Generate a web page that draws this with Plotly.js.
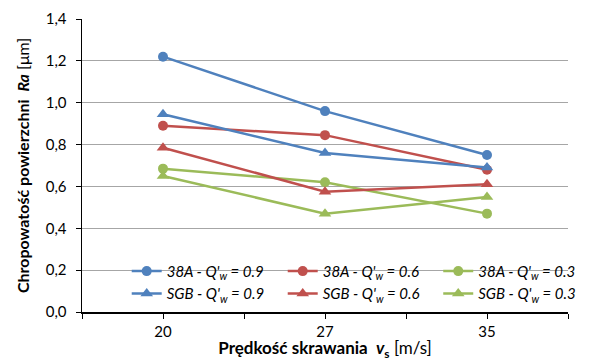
<!DOCTYPE html>
<html><head><meta charset="utf-8">
<script src="https://cdn.plot.ly/plotly-3.0.1.min.js"></script>
<style>html,body{margin:0;padding:0;background:#fff}#c{width:590px;height:361px}</style>
</head><body><div id="c"></div>
<script>
const categories = ['20', '27', '35'];
const seriesNames = ["38A - Q'<sub>w</sub> = 0.9", "38A - Q'<sub>w</sub> = 0.6", "38A - Q'<sub>w</sub> = 0.3",
                     "SGB - Q'<sub>w</sub> = 0.9", "SGB - Q'<sub>w</sub> = 0.6", "SGB - Q'<sub>w</sub> = 0.3"];
const a38_09 = [1.22, 0.96, 0.75];
const a38_06 = [0.89, 0.845, 0.68];
const a38_03 = [0.685, 0.62, 0.47];
const sgb_09 = [0.945, 0.76, 0.69];
const sgb_06 = [0.785, 0.575, 0.61];
const sgb_03 = [0.65, 0.47, 0.55];
const yTicks = [0, 0.2, 0.4, 0.6, 0.8, 1.0, 1.2, 1.4];

const colors = ['#4F81BD', '#C0504D', '#9BBB59'];
const values = [a38_09, a38_06, a38_03, sgb_09, sgb_06, sgb_03];
const legendIds = ['legend', 'legend2', 'legend3'];
const idx = categories.map((c, i) => i);
const traces = values.map((v, i) => ({
  x: idx, y: v, name: seriesNames[i], type: 'scatter', mode: 'lines+markers',
  legend: legendIds[i % 3],
  line: {color: colors[i % 3], width: 2.5},
  marker: {color: colors[i % 3], size: i < 3 ? 10 : 11, symbol: i < 3 ? 'circle' : 'triangle-up'}
}));
const font = 'Lato, "Open Sans", sans-serif';
const legFont = {family: font, size: 15, style: 'italic', color: '#000'};
const legBase = {orientation: 'v', xanchor: 'left', y: 0.195, yanchor: 'top',
                 bgcolor: 'rgba(0,0,0,0)', font: legFont, tracegroupgap: 0};
const layout = {
  width: 590, height: 361,
  margin: {l: 82, r: 9, t: 19, b: 49},
  paper_bgcolor: '#fff', plot_bgcolor: '#fff',
  separators: ',.',
  font: {family: font, size: 15, color: '#000'},
  showlegend: true,
  shapes: [{type: 'rect', xref: 'paper', yref: 'paper', x0: 0.046, x1: 1, y0: 0.12, y1: 0.24,
            fillcolor: '#fff', line: {width: 0}, layer: 'between'}],
  legend: Object.assign({}, legBase, {x: 0.092}),
  legend2: Object.assign({}, legBase, {x: 0.413}),
  legend3: Object.assign({}, legBase, {x: 0.733}),
  xaxis: {type: 'linear', range: [-0.5, 2.5], tickvals: idx, ticktext: categories,
          showgrid: false, zeroline: false, showline: true, linecolor: '#000', linewidth: 1.5,
          ticks: 'outside', ticklen: 5, tickcolor: '#000',
          minor: {dtick: 0.5, tick0: 0.5, ticks: 'outside', ticklen: 5, tickcolor: '#000', showgrid: false},
          tickfont: {size: 15},
          title: {text: "<b>Prędkość skrawania  <i>v</i><sub>s</sub></b> [m/s]", standoff: 4, font: {size: 17}}},
  yaxis: {range: [0, 1.4], tickvals: yTicks, tickformat: '.1f',
          showgrid: true, gridcolor: '#A6A6A6', gridwidth: 1, zeroline: false,
          showline: true, linecolor: '#000', linewidth: 1.5,
          ticks: 'outside', ticklen: 5, tickcolor: '#000', tickfont: {size: 15}, ticklabelstandoff: 6,
          title: {text: "<b>Chropowatość powierzchni  <i>Ra</i></b> [μm]", standoff: 12, font: {size: 16}}}
};
Plotly.newPlot('c', traces, layout, {staticPlot: true});
</script></body></html>
